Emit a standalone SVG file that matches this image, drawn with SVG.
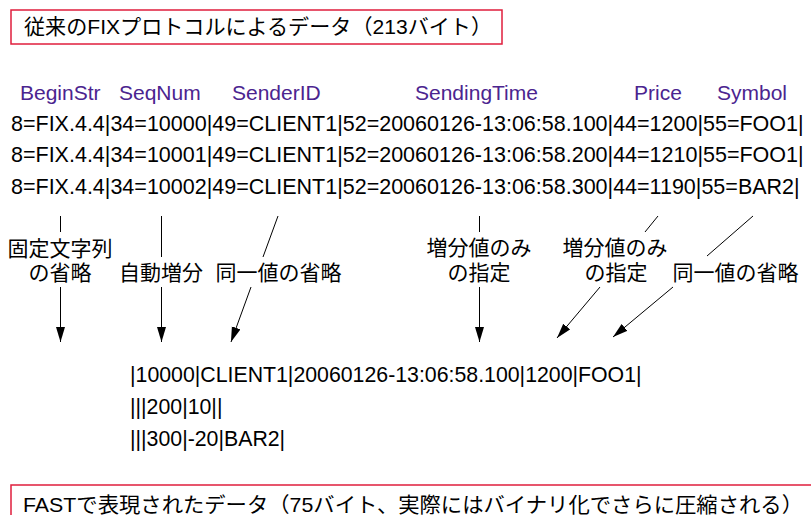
<svg xmlns="http://www.w3.org/2000/svg" width="811" height="515" viewBox="0 0 811 515">
<style>
text{font-family:"Liberation Sans","Noto Sans CJK JP",Arial,sans-serif;fill:#000;}
.box{fill:#fff;stroke:#e01e3c;stroke-width:1.5;}
.ttl{font-size:21px;}
.fld{font-size:21px;fill:#4b248f;}
.dat{font-size:21.5px;}
.fst{font-size:21.3px;}
.lbl{font-size:21px;text-anchor:middle;}
.ln{stroke:#000;stroke-width:1;fill:none;}
</style>
<defs>
<marker id="ah" markerUnits="userSpaceOnUse" markerWidth="16" markerHeight="10" refX="15" refY="4.5" orient="auto">
<path d="M0,0 L15,4.5 L0,9 z" fill="#000"/>
</marker>
</defs>
<rect width="811" height="515" fill="#fff"/>
<g id="fix-title">
<rect class="box" x="11" y="10" width="491" height="34"/>
<text class="ttl" x="24" y="33.5" textLength="468" lengthAdjust="spacingAndGlyphs">従来のFIXプロトコルによるデータ（213バイト）</text>
</g>
<g id="field-names">
<text class="fld" x="20" y="100">BeginStr</text>
<text class="fld" x="119" y="100">SeqNum</text>
<text class="fld" x="232" y="100">SenderID</text>
<text class="fld" x="415" y="100">SendingTime</text>
<text class="fld" x="634" y="100">Price</text>
<text class="fld" x="717" y="100">Symbol</text>
</g>
<g id="fix-data">
<text class="dat" x="11" y="130.5">8=FIX.4.4|34=10000|49=CLIENT1|52=20060126-13:06:58.100|44=1200|55=FOO1|</text>
<text class="dat" x="11" y="162">8=FIX.4.4|34=10001|49=CLIENT1|52=20060126-13:06:58.200|44=1210|55=FOO1|</text>
<text class="dat" x="11" y="193.5">8=FIX.4.4|34=10002|49=CLIENT1|52=20060126-13:06:58.300|44=1190|55=BAR2|</text>
</g>
<g id="labels">
<text class="lbl" x="60" y="255.5">固定文字列</text>
<text class="lbl" x="60" y="280">の省略</text>
<text class="lbl" x="161" y="280">自動増分</text>
<text class="lbl" x="278.5" y="280">同一値の省略</text>
<text class="lbl" x="479" y="255">増分値のみ</text>
<text class="lbl" x="479" y="280">の指定</text>
<text class="lbl" x="615" y="255">増分値のみ</text>
<text class="lbl" x="616" y="280">の指定</text>
<text class="lbl" x="735.5" y="280">同一値の省略</text>
</g>
<g id="connectors">
<line class="ln" x1="60.5" y1="216" x2="60.5" y2="232"/>
<line class="ln" x1="60.5" y1="287" x2="60.5" y2="342" marker-end="url(#ah)"/>
<line class="ln" x1="161.5" y1="216" x2="161.5" y2="257"/>
<line class="ln" x1="161.5" y1="287" x2="161.5" y2="342" marker-end="url(#ah)"/>
<line class="ln" x1="278" y1="216" x2="263" y2="257"/>
<line class="ln" x1="251" y1="287" x2="231" y2="342" marker-end="url(#ah)"/>
<line class="ln" x1="479.5" y1="216" x2="479.5" y2="232"/>
<line class="ln" x1="479.5" y1="287" x2="479.5" y2="342" marker-end="url(#ah)"/>
<line class="ln" x1="658" y1="216" x2="645" y2="232"/>
<line class="ln" x1="600" y1="287" x2="557" y2="338" marker-end="url(#ah)"/>
<line class="ln" x1="753" y1="216" x2="707" y2="256"/>
<line class="ln" x1="673" y1="287" x2="613" y2="337" marker-end="url(#ah)"/>
</g>
<g id="fast-data">
<text class="fst" x="130" y="382">|10000|CLIENT1|20060126-13:06:58.100|1200|FOO1|</text>
<text class="fst" x="130" y="414">|||200|10||</text>
<text class="fst" x="130" y="446">|||300|-20|BAR2|</text>
</g>
<g id="fast-title">
<rect class="box" x="11" y="485" width="810" height="45"/>
<text class="ttl" x="23" y="512" textLength="780" lengthAdjust="spacingAndGlyphs">FASTで表現されたデータ（75バイト、実際にはバイナリ化でさらに圧縮される）</text>
</g>
</svg>
